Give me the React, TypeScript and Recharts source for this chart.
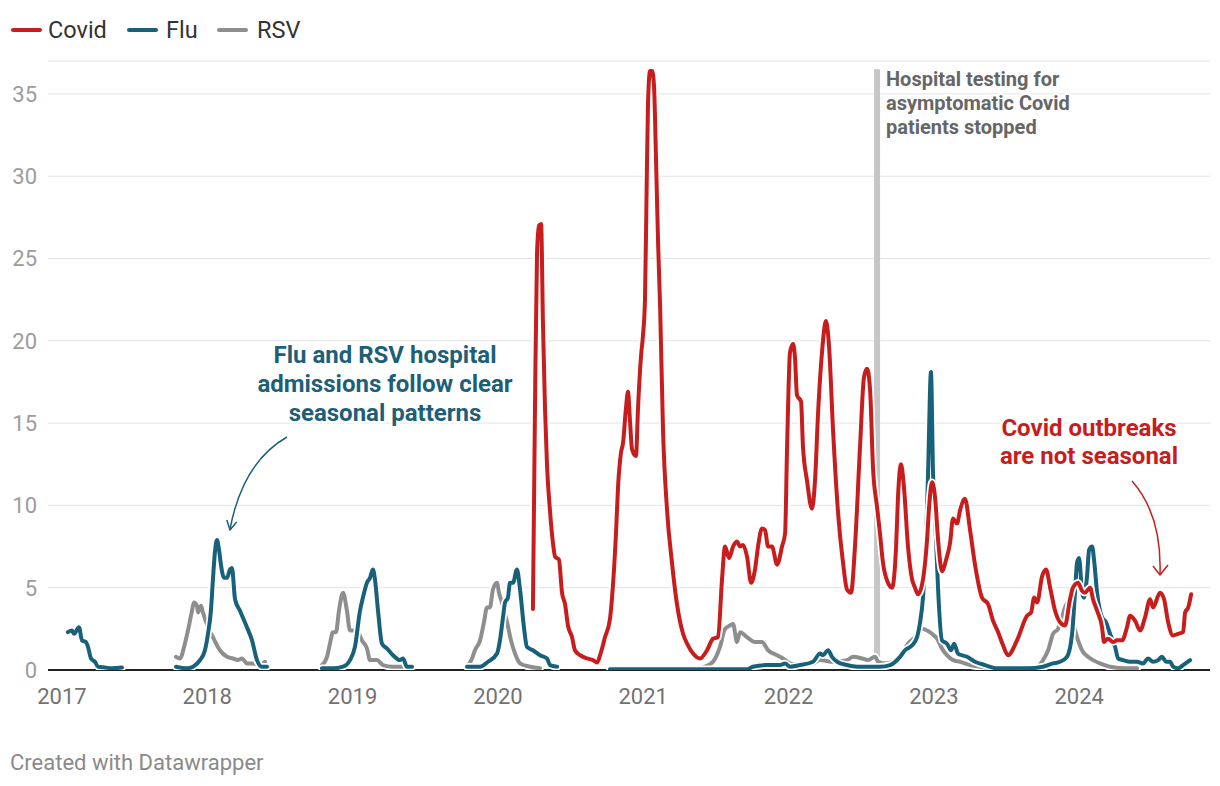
import React from 'react';
import { LineChart, Line, XAxis, YAxis, CartesianGrid, ReferenceLine } from 'recharts';

const yearTicks = [2017, 2018, 2019, 2020, 2021, 2022, 2023, 2024];
const valueTicks = [0, 5, 10, 15, 20, 25, 30, 35];
const testingStopped = 2022.609;
const testingBar = [
  { t: testingStopped, v: 0 },
  { t: testingStopped, v: 36.5 },
];

type Pt = [number, number | null];

const flu: Pt[] = [
  [2017.041, 2.3], [2017.069, 2.4], [2017.083, 2.2], [2017.117, 2.6], [2017.138, 1.8], [2017.165, 1.7],
  [2017.179, 1.4], [2017.2, 0.7], [2017.227, 0.5], [2017.248, 0.2], [2017.296, 0.15], [2017.344, 0.1],
  [2017.413, 0.15], [2017.6, null],
  [2017.785, 0.2], [2017.86, 0.1], [2017.902, 0.2], [2017.95, 0.6], [2017.984, 1.2], [2018.005, 2.2],
  [2018.025, 3.6], [2018.039, 5.5], [2018.053, 7.2], [2018.067, 7.9], [2018.081, 7.3], [2018.094, 6.4],
  [2018.115, 5.6], [2018.136, 5.6], [2018.156, 6.1], [2018.17, 6.2], [2018.191, 4.3], [2018.225, 3.6],
  [2018.273, 2.6], [2018.308, 1.8], [2018.342, 0.6], [2018.376, 0.2], [2018.411, 0.2], [2018.6, null],
  [2018.789, 0.1], [2018.865, 0.1], [2018.934, 0.2], [2018.982, 0.6], [2019.016, 1.4], [2019.051, 3.6],
  [2019.071, 4.4], [2019.099, 5.3], [2019.12, 5.6], [2019.14, 6.1], [2019.154, 5.5], [2019.175, 3.6],
  [2019.202, 1.6], [2019.237, 1.3], [2019.278, 0.9], [2019.326, 0.6], [2019.347, 0.7], [2019.374, 0.2],
  [2019.409, 0.2], [2019.6, null],
  [2019.787, 0.2], [2019.877, 0.2], [2019.932, 0.5], [2019.994, 1.0], [2020.014, 1.8], [2020.035, 3.2],
  [2020.049, 4.1], [2020.069, 4.4], [2020.083, 5.3], [2020.104, 5.3], [2020.131, 6.1], [2020.152, 4.9],
  [2020.179, 2.6], [2020.2, 1.4], [2020.241, 1.2], [2020.29, 0.9], [2020.338, 0.7], [2020.358, 0.3],
  [2020.407, 0.2], [2020.6, null],
  [2020.771, 0.05], [2020.978, 0.05], [2021.253, 0.05], [2021.528, 0.05], [2021.714, 0.05], [2021.755, 0.2],
  [2021.852, 0.3], [2021.941, 0.3], [2021.976, 0.4], [2022.01, 0.2], [2022.079, 0.3], [2022.168, 0.5],
  [2022.217, 1.0], [2022.237, 0.9], [2022.272, 1.2], [2022.299, 0.8], [2022.334, 0.5], [2022.402, 0.3],
  [2022.471, 0.2], [2022.561, 0.2], [2022.629, 0.2], [2022.698, 0.3], [2022.767, 0.8], [2022.801, 1.2],
  [2022.85, 1.5], [2022.884, 2.0], [2022.905, 2.9], [2022.925, 4.4], [2022.946, 7.9], [2022.96, 12.0],
  [2022.98, 18.1], [2022.994, 12.0], [2023.015, 7.9], [2023.029, 4.9], [2023.056, 1.8], [2023.09, 1.6],
  [2023.118, 1.2], [2023.139, 1.6], [2023.166, 1.0], [2023.228, 0.8], [2023.283, 0.5], [2023.352, 0.3],
  [2023.435, 0.1], [2023.524, 0.1], [2023.641, 0.1], [2023.751, 0.2], [2023.82, 0.4], [2023.868, 0.5],
  [2023.916, 0.8], [2023.951, 2.2], [2023.971, 4.7], [2023.985, 6.5], [2023.999, 6.8], [2024.02, 4.7],
  [2024.033, 4.4], [2024.054, 5.7], [2024.068, 7.3], [2024.089, 7.5], [2024.102, 6.7], [2024.123, 4.7],
  [2024.157, 3.2], [2024.185, 2.9], [2024.212, 2.2], [2024.247, 1.4], [2024.268, 0.7], [2024.302, 0.6],
  [2024.35, 0.5], [2024.398, 0.5], [2024.44, 0.4], [2024.474, 0.7], [2024.508, 0.5], [2024.543, 0.6],
  [2024.57, 0.8], [2024.598, 0.5], [2024.625, 0.5], [2024.646, 0.2], [2024.68, 0.1], [2024.715, 0.3],
  [2024.763, 0.6],
];

const rsv: Pt[] = [
  [2017.785, 0.8], [2017.812, 0.7], [2017.846, 1.6], [2017.867, 2.4], [2017.895, 3.6], [2017.908, 4.1],
  [2017.929, 3.9], [2017.936, 3.5], [2017.957, 3.9], [2017.97, 3.5], [2018.005, 2.6], [2018.039, 2.0],
  [2018.087, 1.2], [2018.136, 0.8], [2018.177, 0.7], [2018.211, 0.6], [2018.239, 0.7], [2018.273, 0.4],
  [2018.314, 0.4], [2018.363, 0.3], [2018.397, 0.5], [2018.6, null],
  [2018.789, 0.3], [2018.824, 0.8], [2018.844, 1.6], [2018.865, 2.3], [2018.886, 2.3], [2018.906, 3.6],
  [2018.934, 4.7], [2018.961, 3.6], [2018.982, 2.4], [2019.03, 2.4], [2019.064, 1.8], [2019.099, 1.3],
  [2019.12, 0.6], [2019.168, 0.6], [2019.209, 0.3], [2019.278, 0.2], [2019.347, 0.2], [2019.6, null],
  [2019.787, 0.2], [2019.822, 0.7], [2019.842, 1.2], [2019.877, 1.8], [2019.904, 2.9], [2019.925, 3.8],
  [2019.945, 3.8], [2019.966, 4.9], [2019.994, 5.3], [2020.007, 4.7], [2020.028, 4.1], [2020.063, 2.9],
  [2020.09, 1.8], [2020.118, 1.0], [2020.152, 0.4], [2020.221, 0.2], [2020.29, 0.1], [2020.6, null],
  [2021.391, 0.1], [2021.48, 0.5], [2021.528, 1.4], [2021.563, 2.5], [2021.597, 2.7], [2021.618, 2.8],
  [2021.645, 1.7], [2021.666, 2.3], [2021.714, 2.0], [2021.769, 1.7], [2021.817, 1.7], [2021.859, 1.2],
  [2021.921, 0.9], [2021.962, 0.7], [2022.01, 0.4], [2022.079, 0.3], [2022.168, 0.4], [2022.217, 0.6],
  [2022.306, 0.5], [2022.402, 0.6], [2022.444, 0.8], [2022.506, 0.7], [2022.547, 0.6], [2022.595, 0.8],
  [2022.616, 0.5], [2022.664, 0.4], [2022.719, 0.5], [2022.78, 1.0], [2022.822, 1.6], [2022.87, 2.0],
  [2022.918, 2.5], [2022.953, 2.4], [2022.987, 2.2], [2023.022, 1.9], [2023.056, 1.3], [2023.09, 0.9],
  [2023.132, 0.6], [2023.18, 0.5], [2023.249, 0.3], [2023.318, 0.2], [2023.407, 0.1], [2023.524, 0.05],
  [2023.71, 0.2], [2023.751, 0.6], [2023.786, 1.2], [2023.82, 2.2], [2023.854, 2.5], [2023.882, 3.2],
  [2023.902, 3.8], [2023.923, 4.1], [2023.957, 2.9], [2023.992, 1.8], [2024.026, 1.1], [2024.061, 0.8],
  [2024.095, 0.6], [2024.143, 0.4], [2024.212, 0.2], [2024.329, 0.1], [2024.398, 0.1],
];

const covid: Pt[] = [
  [2020.241, 3.7], [2020.255, 15.9], [2020.269, 25.3], [2020.283, 27.0], [2020.297, 27.1], [2020.31, 21.0],
  [2020.324, 15.9], [2020.338, 12.4], [2020.358, 9.7], [2020.379, 7.7], [2020.393, 6.9], [2020.42, 6.7],
  [2020.441, 4.7], [2020.462, 4.0], [2020.482, 2.7], [2020.51, 2.0], [2020.53, 1.2], [2020.565, 0.9],
  [2020.613, 0.7], [2020.654, 0.6], [2020.682, 0.45], [2020.703, 0.9], [2020.737, 2.0], [2020.771, 3.1],
  [2020.792, 5.2], [2020.813, 8.4], [2020.827, 11.2], [2020.847, 13.2], [2020.861, 13.8], [2020.881, 15.9],
  [2020.895, 16.9], [2020.909, 15.1], [2020.923, 13.4], [2020.95, 13.0], [2020.964, 15.9], [2020.985, 19.1],
  [2020.998, 20.3], [2021.012, 22.5], [2021.023, 29.0], [2021.033, 34.5], [2021.047, 36.4], [2021.061, 36.4],
  [2021.074, 35.5], [2021.088, 31.0], [2021.102, 26.0], [2021.116, 22.1], [2021.136, 14.6], [2021.164, 9.7],
  [2021.198, 6.5], [2021.232, 4.0], [2021.274, 2.2], [2021.308, 1.5], [2021.343, 1.0], [2021.391, 0.7],
  [2021.439, 1.2], [2021.48, 1.9], [2021.515, 2.0], [2021.542, 5.5], [2021.563, 7.5], [2021.59, 6.8],
  [2021.618, 7.5], [2021.645, 7.8], [2021.666, 7.5], [2021.686, 7.6], [2021.714, 6.9], [2021.742, 5.3],
  [2021.769, 6.1], [2021.79, 7.5], [2021.817, 8.6], [2021.838, 8.5], [2021.859, 7.5], [2021.886, 7.5],
  [2021.921, 6.4], [2021.955, 7.5], [2021.976, 8.3], [2021.99, 13.6], [2022.01, 19.3], [2022.031, 19.8],
  [2022.044, 19.0], [2022.058, 16.7], [2022.086, 16.3], [2022.099, 13.6], [2022.127, 11.5], [2022.161, 9.8],
  [2022.182, 11.5], [2022.203, 15.6], [2022.23, 19.3], [2022.258, 21.2], [2022.279, 19.6], [2022.306, 14.6],
  [2022.341, 9.5], [2022.375, 6.5], [2022.402, 4.9], [2022.43, 4.7], [2022.457, 7.5], [2022.492, 13.6],
  [2022.519, 17.8], [2022.54, 18.3], [2022.561, 17.0], [2022.581, 12.3], [2022.609, 9.9], [2022.629, 8.3],
  [2022.65, 6.5], [2022.684, 5.3], [2022.712, 5.0], [2022.74, 7.5], [2022.753, 10.5], [2022.774, 12.5],
  [2022.794, 11.1], [2022.822, 7.5], [2022.85, 5.5], [2022.87, 5.0], [2022.891, 4.6], [2022.925, 5.5],
  [2022.953, 7.9], [2022.967, 9.9], [2022.987, 11.4], [2023.008, 10.5], [2023.029, 7.9], [2023.056, 6.0],
  [2023.084, 6.7], [2023.111, 7.7], [2023.132, 9.2], [2023.159, 8.9], [2023.18, 9.7], [2023.214, 10.4],
  [2023.249, 8.5], [2023.283, 6.4], [2023.331, 4.4], [2023.373, 4.0], [2023.407, 3.0], [2023.442, 2.3],
  [2023.476, 1.5], [2023.51, 0.9], [2023.572, 1.8], [2023.641, 3.3], [2023.669, 3.5], [2023.69, 4.4],
  [2023.71, 4.1], [2023.745, 5.7], [2023.772, 6.1], [2023.8, 5.0], [2023.834, 3.6], [2023.868, 2.9],
  [2023.902, 2.7], [2023.937, 4.3], [2023.957, 5.0], [2023.992, 5.3], [2024.02, 4.8], [2024.04, 4.7],
  [2024.075, 5.0], [2024.095, 4.3], [2024.123, 3.6], [2024.157, 2.6], [2024.171, 1.7], [2024.198, 1.9],
  [2024.233, 1.7], [2024.26, 1.8], [2024.295, 1.8], [2024.329, 2.6], [2024.35, 3.3], [2024.384, 3.0],
  [2024.419, 2.4], [2024.453, 3.2], [2024.488, 4.3], [2024.508, 3.8], [2024.556, 4.7], [2024.584, 4.3],
  [2024.612, 2.9], [2024.646, 2.1], [2024.68, 2.2], [2024.715, 2.3], [2024.729, 3.5], [2024.75, 3.8],
  [2024.77, 4.6],
];

const COVID = '#c71e1d';
const FLU = '#17617a';
const RSV = '#8e8e8e';
const FONT = 'Roboto, sans-serif';

const rows = (pts: Pt[]) => pts.map(([t, v]) => ({ t, v }));

const series = [
  { name: 'RSV', color: RSV, data: rows(rsv) },
  { name: 'Flu', color: FLU, data: rows(flu) },
  { name: 'Covid', color: COVID, data: rows(covid) },
];

const legendItems = [
  { name: 'Covid', color: COVID, x: 12, tx: 48 },
  { name: 'Flu', color: FLU, x: 128, tx: 166 },
  { name: 'RSV', color: RSV, x: 218, tx: 257 },
];

const halo = { stroke: '#fff', strokeWidth: 5, paintOrder: 'stroke' as const, strokeLinejoin: 'round' as const };

export default function App() {
  return (
    <div style={{ position: 'absolute', left: 0, top: 0, width: 1220, height: 786, background: '#fff', fontFamily: FONT }}>
      <LineChart width={1220} height={786} margin={{ top: 61, right: 10, bottom: 86, left: 0 }}>
        <CartesianGrid vertical={false} stroke="#e3e3e3" strokeWidth={1} />
        <XAxis
          type="number"
          dataKey="t"
          domain={[2016.904, 2024.9]}
          ticks={yearTicks}
          allowDataOverflow
          axisLine={false}
          tickLine={false}
          tickSize={0}
          tickMargin={18}
          height={30}
          tick={{ fill: '#727272', fontSize: 22, fontFamily: FONT }}
          interval={0}
        />
        <YAxis
          type="number"
          domain={[0, 37]}
          ticks={valueTicks}
          allowDataOverflow
          axisLine={false}
          tickLine={false}
          tickSize={0}
          tickMargin={11}
          width={48}
          tick={{ fill: '#9c9c9c', fontSize: 22, fontFamily: FONT }}
          interval={0}
        />
        <ReferenceLine y={0} stroke="#222" strokeWidth={2} />
        <Line
          data={testingBar}
          dataKey="v"
          type="linear"
          stroke="#c6c6c6"
          strokeWidth={6}
          dot={false}
          activeDot={false}
          isAnimationActive={false}
        />
        {series.flatMap((s) => [
          <Line
            key={s.name + '-halo'}
            data={s.data}
            dataKey="v"
            type="monotone"
            stroke="#ffffff"
            strokeWidth={7.5}
            dot={false}
            activeDot={false}
            isAnimationActive={false}
            connectNulls={false}
            strokeLinejoin="round"
            strokeLinecap="round"
          />,
          <Line
            key={s.name}
            data={s.data}
            dataKey="v"
            type="monotone"
            stroke={s.color}
            strokeWidth={4}
            dot={false}
            activeDot={false}
            isAnimationActive={false}
            connectNulls={false}
            strokeLinejoin="round"
            strokeLinecap="round"
          />,
        ])}
      </LineChart>
      <svg width={1220} height={786} style={{ position: 'absolute', left: 0, top: 0, pointerEvents: 'none' }}>
        {legendItems.map((l) => (
          <g key={l.name}>
            <line x1={l.x + 1} y1={30} x2={l.x + 28} y2={30} stroke={l.color} strokeWidth={4} strokeLinecap="round" />
            <text x={l.tx} y={38} fontSize={23.5} fill="#333" fontFamily={FONT}>{l.name}</text>
          </g>
        ))}
        <g fontFamily={FONT} fontWeight={700} fontSize={20} fill="#666">
          <text x={886} y={86} {...halo}>Hospital testing for</text>
          <text x={886} y={110} {...halo}>asymptomatic Covid</text>
          <text x={886} y={134} {...halo}>patients stopped</text>
        </g>
        <g fontFamily={FONT} fontWeight={700} fontSize={24} fill="#1d5f78" textAnchor="middle">
          <text x={385} y={363} {...halo}>Flu and RSV hospital</text>
          <text x={385} y={392} {...halo}>admissions follow clear</text>
          <text x={385} y={421} {...halo}>seasonal patterns</text>
        </g>
        <path d="M287,437 Q243,462 230,529" fill="none" stroke="#1d5f78" strokeWidth={1.5} />
        <path d="M236.6,522 L230,530 L226.8,520" fill="none" stroke="#1d5f78" strokeWidth={1.5} strokeLinejoin="round" />
        <g fontFamily={FONT} fontWeight={700} fontSize={24} fill={COVID} textAnchor="middle">
          <text x={1089} y={436} {...halo}>Covid outbreaks</text>
          <text x={1089} y={464} {...halo}>are not seasonal</text>
        </g>
        <path d="M1132,481 Q1162,515 1160,574" fill="none" stroke={COVID} strokeWidth={1.5} />
        <path d="M1168,565 L1160,575 L1153,566" fill="none" stroke={COVID} strokeWidth={1.5} strokeLinejoin="round" />
        <text x={10} y={770} fontSize={22} fill="#8a8a8a" fontFamily={FONT}>Created with Datawrapper</text>
      </svg>
    </div>
  );
}
